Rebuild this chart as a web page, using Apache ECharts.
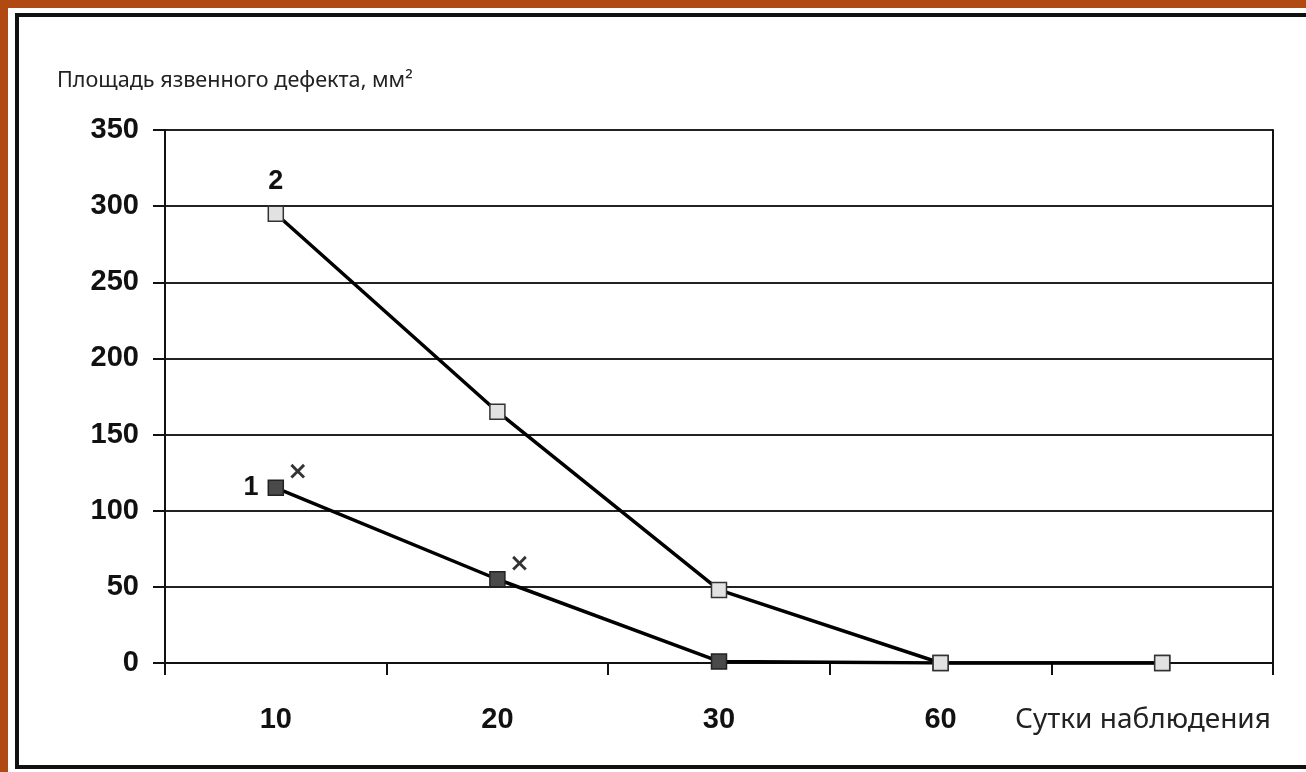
<!DOCTYPE html>
<html>
<head>
<meta charset="utf-8">
<script src="https://cdn.jsdelivr.net/npm/echarts@6/dist/echarts.min.js"></script>
<style>
  html, body { margin: 0; padding: 0; }
  body { width: 1306px; height: 772px; background: #b04912; overflow: hidden; position: relative; }
  .sheet { position: absolute; left: 8px; top: 8px; width: 1320px; height: 780px; background: #fff; }
  .frame { position: absolute; left: 15px; top: 13px; width: 1320px; height: 748px; border: 4px solid #111; border-right: none; }
  #chart { position: absolute; left: 0; top: 0; width: 1306px; height: 772px; }
</style>
</head>
<body>
<div class="sheet"></div>
<div class="frame"></div>
<div id="chart"></div>
<script>
// сутки наблюдения (последняя категория без подписи)
const days = ['10', '20', '30', '60', '']
// площадь язвенного дефекта, мм2
const group1 = [115, 55, 1, 0, 0]
const group2 = [295, 165, 48, 0, 0]
// отметки достоверности для группы 1
const sigMarks = ['×', '×', '', '', '']

const titleText = 'Площадь язвенного дефекта, мм²'
const xName = 'Сутки наблюдения'

const numFont = { fontFamily: 'Liberation Sans', fontWeight: 'bold', fontSize: 29, color: '#111' }

const chartDom = echarts.init(document.getElementById('chart'))

const sigData = []
sigMarks.forEach((m, i) => {
  if (m) sigData.push({ value: [i, group1[i]], mark: m })
})

const option = {
  animation: false,
  backgroundColor: 'transparent',
  title: [
    {
      text: titleText,
      left: 52,
      top: 65,
      textStyle: { fontFamily: 'Noto Sans', fontWeight: 'normal', fontSize: 21.6, color: '#222' }
    },
    {
      text: xName,
      left: 1010,
      top: 701,
      textStyle: { fontFamily: 'Noto Sans', fontWeight: 'normal', fontSize: 28, color: '#222' }
    }
  ],
  grid: {
    left: 165,
    right: 33,
    top: 130,
    bottom: 109
  },
  xAxis: {
    type: 'category',
    data: days,
    boundaryGap: true,
    axisLine: { lineStyle: { color: '#111', width: 2 } },
    axisTick: { show: true, length: 12, lineStyle: { color: '#111', width: 2 } },
    axisLabel: Object.assign({ margin: 42 }, numFont),
    splitLine: { show: false }
  },
  yAxis: [
    {
      type: 'value',
      min: 0,
      max: 350,
      interval: 50,
      axisLine: { show: true, lineStyle: { color: '#111', width: 2 } },
      axisTick: { show: true, length: 12, lineStyle: { color: '#111', width: 2 } },
      axisLabel: Object.assign({ margin: 26 }, numFont),
      splitLine: { lineStyle: { color: '#222', width: 2 } }
    },
    {
      type: 'value',
      position: 'right',
      min: 0,
      max: 350,
      interval: 50,
      axisLine: { show: true, lineStyle: { color: '#111', width: 2 } },
      axisTick: { show: false },
      axisLabel: { show: false },
      splitLine: { show: false }
    }
  ],
  series: [
    {
      name: '1',
      type: 'line',
      data: group1,
      z: 3,
      symbol: 'rect',
      symbolSize: 15,
      lineStyle: { color: '#000', width: 3.5 },
      itemStyle: { color: '#4a4a4a', borderColor: '#222', borderWidth: 1.5 },
      label: {
        show: true,
        position: 'left',
        distance: 9,
        formatter: p => (p.dataIndex === 0 ? '1' : ''),
        ...numFont,
        fontSize: 27
      }
    },
    {
      name: '2',
      type: 'line',
      data: group2,
      z: 4,
      symbol: 'rect',
      symbolSize: 15,
      lineStyle: { color: '#000', width: 3.5 },
      itemStyle: { color: '#e2e2e2', borderColor: '#333', borderWidth: 1.5 },
      label: {
        show: true,
        position: 'top',
        distance: 10,
        formatter: p => (p.dataIndex === 0 ? '2' : ''),
        ...numFont,
        fontSize: 27
      }
    },
    {
      name: 'sig',
      type: 'scatter',
      data: sigData,
      z: 5,
      symbolSize: 1,
      itemStyle: { color: 'transparent' },
      label: {
        show: true,
        position: 'inside',
        offset: [22, -15],
        formatter: p => p.data.mark,
        fontFamily: 'DejaVu Sans',
        fontWeight: 'bold',
        fontSize: 25,
        color: '#000'
      }
    }
  ]
}

chartDom.setOption(option, true)
</script>
</body>
</html>
